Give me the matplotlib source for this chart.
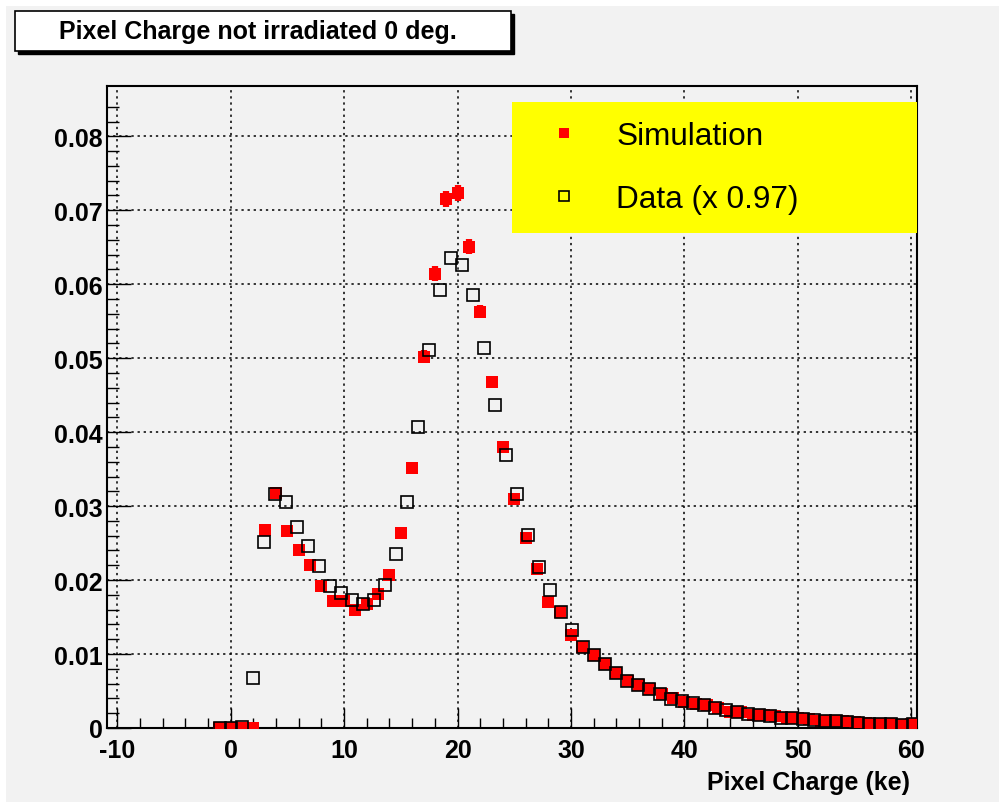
#recreate pixel charge plot (simulation vs data)
import numpy as np
import matplotlib.pyplot as plt
from matplotlib.patches import Rectangle
from matplotlib.lines import Line2D

plt.rcParams['font.family'] = ['Liberation Sans', 'DejaVu Sans']
plt.rcParams['axes.unicode_minus'] = False

#==================data======================
#simulation, one bin per ke
sim_x = list(range(-1, 61))
sim_y = [0, 0, 0, 0, 0.0268, 0.0318, 0.0267, 0.0241, 0.0221, 0.0192,
         0.0172, 0.0172, 0.0159, 0.0167, 0.0181, 0.0207, 0.0264, 0.0352, 0.0502, 0.0614,
         0.0715, 0.0723, 0.0651, 0.0563, 0.0468, 0.0380, 0.0309, 0.0257, 0.0215, 0.0171,
         0.0157, 0.0126, 0.0110, 0.0099, 0.0087, 0.0074, 0.0064, 0.0058, 0.0053, 0.0046,
         0.0040, 0.0035, 0.0033, 0.0031, 0.0027, 0.0021, 0.0022, 0.0018, 0.0018, 0.0016,
         0.0014, 0.0013, 0.0012, 0.0009, 0.0009, 0.0009, 0.0008, 0.0007, 0.0005, 0.0006,
         0.0004, 0.0006]
sim_err = [0, 0, 0, 0, 0.0005, 0.0006, 0.0005, 0.0004, 0.0004, 0.0003,
           0.0003, 0.0003, 0.0003, 0.0003, 0.0003, 0.0004, 0.0005, 0.0008, 0.0009, 0.0010,
           0.0011, 0.0011, 0.0010, 0.0009, 0.0008, 0.0008, 0.0006, 0.0005, 0.0004, 0.0003,
           0.0003, 0.0003, 0.0003, 0.0002, 0.0002, 0.0002, 0.0002, 0.0002, 0.0002, 0.0002,
           0.0002, 0.0002, 0.0002, 0.0002, 0.0002, 0.0001, 0.0001, 0.0001, 0.0001, 0.0001,
           0.0001, 0.0001, 0.0001, 0.0001, 0.0001, 0.0001, 0.0001, 0.0001, 0.0001, 0.0001,
           0.0001, 0.0001]

#data, charge bins scaled by 0.97
data_bin = list(range(-1, 63))
data_y = [0, 0, 0.0002, 0.0067, 0.0252, 0.0316, 0.0305, 0.0272, 0.0246, 0.0219, 0.0192,
          0.0183, 0.0173, 0.0167, 0.0173, 0.0193, 0.0235, 0.0305, 0.0407, 0.0511, 0.0592,
          0.0636, 0.0626, 0.0586, 0.0514, 0.0437, 0.0369, 0.0316, 0.0261, 0.0218, 0.0186,
          0.0157, 0.0132, 0.0110, 0.0099, 0.0086, 0.0074, 0.0064, 0.0058, 0.0053, 0.0046,
          0.0039, 0.0036, 0.0034, 0.0031, 0.0027, 0.0024, 0.0021, 0.0019, 0.0018, 0.0016,
          0.0014, 0.0013, 0.0012, 0.0011, 0.0010, 0.0009, 0.0008, 0.0007, 0.0006, 0.0006,
          0.0005, 0.0004, 0.0005]
scale = 0.97
data_x = [scale * k for k in data_bin]

xticks = [-10, 0, 10, 20, 30, 40, 50, 60]
yticks = [0, 0.01, 0.02, 0.03, 0.04, 0.05, 0.06, 0.07, 0.08]
ytick_labels = ['0', '0.01', '0.02', '0.03', '0.04', '0.05', '0.06', '0.07', '0.08']

#==================plot======================
W, H = 999, 803
bg = '#f2f2f2'
fig = plt.figure(figsize=(W / 100, H / 100), dpi=100, facecolor='white')
#gray canvas (small white strip on top and left)
fig.patches.append(Rectangle((6 / W, 0), 1 - 6 / W, 1 - 7 / H, transform=fig.transFigure,
                             facecolor=bg, edgecolor='none', zorder=-10))

ax = fig.add_axes([107 / W, 1 - 729 / H, 810 / W, 642 / H])
ax.set_facecolor(bg)

ax.errorbar(sim_x, sim_y, yerr=sim_err, fmt='s', color='red', ms=8.6, mew=0,
            elinewidth=4.5, capsize=2.5, capthick=2, zorder=3)
ax.plot(data_x, data_y, 's', mfc='none', mec='black', ms=8, mew=1.2, zorder=4)

ax.set_xlim(-10.9, 60.5)
ax.set_ylim(0, 0.0868)
ax.set_xticks(xticks)
ax.set_xticks(np.arange(-10, 61, 2), minor=True)
ax.set_yticks(yticks)
ax.set_yticklabels(ytick_labels)
ax.set_yticks(np.arange(0, 0.086, 0.002), minor=True)
ax.tick_params(axis='x', which='major', direction='in', length=14.4, width=1, pad=7,
               labelsize=18, top=False)
ax.tick_params(axis='x', which='minor', direction='in', length=7.2, width=1, top=False)
ax.tick_params(axis='y', which='major', direction='in', length=17, width=1, pad=3,
               labelsize=18, right=False)
ax.tick_params(axis='y', which='minor', direction='in', length=8.6, width=1, right=False)
for lab in ax.get_xticklabels() + ax.get_yticklabels():
    lab.set_fontweight('bold')
for sp in ax.spines.values():
    sp.set_linewidth(1.5)
ax.grid(True, which='major', color='black', linestyle=(0, (1.5, 2.5)), linewidth=1.1)
ax.set_axisbelow(True)

#legend with plain markers (no error bars in the key)
handles = [Line2D([], [], ls='none', marker='s', color='red', mew=0, ms=7),
           Line2D([], [], ls='none', marker='s', mfc='none', mec='black', mew=1.2, ms=7)]
leg = ax.legend(handles, ['Simulation', 'Data (x 0.97)'], loc='upper left',
                bbox_to_anchor=(512 / W, 1 - 103 / H, 405 / W, 0),
                bbox_transform=fig.transFigure, mode='expand', fontsize=22.7,
                frameon=True, facecolor='yellow', edgecolor='none', framealpha=1,
                fancybox=False, borderpad=0.6, handlelength=2.1, handletextpad=0.6,
                labelspacing=1.05, borderaxespad=0, numpoints=1)
leg.get_frame().set_linewidth(0)

fig.text(910 / W, 1 - 783 / H, 'Pixel Charge (ke)', ha='right', va='center',
         fontsize=18, fontweight='bold')

#title box with shadow
fig.patches.append(Rectangle((18 / W, 1 - 55 / H), 496 / W, 40 / H, transform=fig.transFigure,
                             facecolor='black', edgecolor='black', zorder=5))
fig.patches.append(Rectangle((15 / W, 1 - 52 / H), 496 / W, 40 / H, transform=fig.transFigure,
                             facecolor='white', edgecolor='black', lw=1.2, zorder=6))
fig.text(258 / W, 1 - 32 / H, 'Pixel Charge not irradiated 0 deg.', ha='center', va='center',
         fontsize=18, fontweight='bold', zorder=7)

plt.savefig('out.png', dpi=100, facecolor=fig.get_facecolor())
